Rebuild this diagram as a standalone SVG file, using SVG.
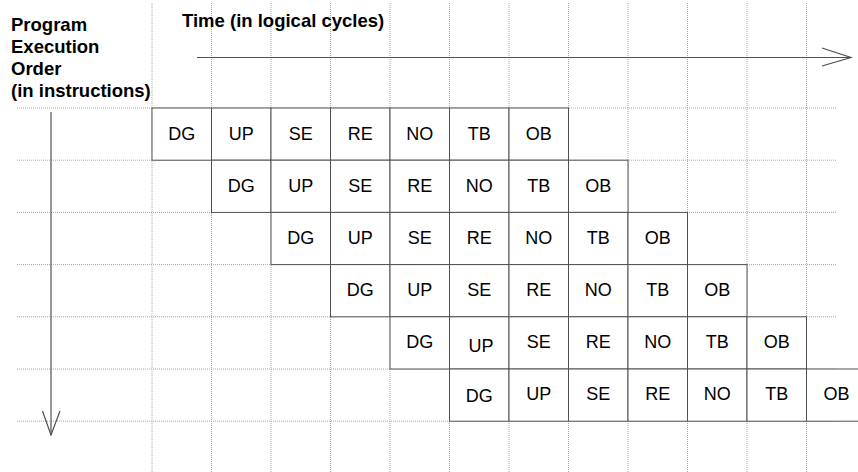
<svg xmlns="http://www.w3.org/2000/svg" width="858" height="472" viewBox="0 0 858 472">
<defs>
<style>
.grid line{stroke:#a8a8a8;stroke-width:1;stroke-dasharray:1 1;}
.cell rect{fill:#fff;stroke:#505050;stroke-width:1;}
.cell text{font-family:"Liberation Sans",Arial,sans-serif;font-size:18px;fill:#000;text-anchor:middle;}
.lbl{font-family:"Liberation Sans",Arial,sans-serif;font-size:18.5px;font-weight:bold;fill:#000;}
.conn{stroke:#505050;stroke-width:1.2;fill:none;}
</style>
</defs>
<rect width="858" height="472" fill="#fff"/>
<g id="grid" class="grid">
<line x1="152" y1="3" x2="152" y2="472"/>
<line x1="211.5" y1="3" x2="211.5" y2="472"/>
<line x1="271" y1="3" x2="271" y2="472"/>
<line x1="330.5" y1="3" x2="330.5" y2="472"/>
<line x1="390" y1="3" x2="390" y2="472"/>
<line x1="449.5" y1="3" x2="449.5" y2="472"/>
<line x1="509" y1="3" x2="509" y2="472"/>
<line x1="568.5" y1="3" x2="568.5" y2="472"/>
<line x1="628" y1="3" x2="628" y2="472"/>
<line x1="687.5" y1="3" x2="687.5" y2="472"/>
<line x1="747" y1="3" x2="747" y2="472"/>
<line x1="806.5" y1="3" x2="806.5" y2="472"/>
<line x1="17" y1="108" x2="836" y2="108"/>
<line x1="17" y1="160.2" x2="836" y2="160.2"/>
<line x1="17" y1="212.4" x2="836" y2="212.4"/>
<line x1="17" y1="264.6" x2="836" y2="264.6"/>
<line x1="17" y1="316.8" x2="836" y2="316.8"/>
<line x1="17" y1="369" x2="836" y2="369"/>
<line x1="17" y1="421.2" x2="836" y2="421.2"/>
</g>
<g id="labels">
<text class="lbl" x="11" y="31">Program</text>
<text class="lbl" x="11" y="53">Execution</text>
<text class="lbl" x="11" y="75">Order</text>
<text class="lbl" x="11" y="97">(in instructions)</text>
<text class="lbl" x="182" y="27">Time (in logical cycles)</text>
</g>
<g id="connectors">
<line class="conn" x1="197" y1="57.5" x2="851" y2="57.5"/>
<polyline class="conn" points="822,48 851,57.5 822,66"/>
<line class="conn" x1="51" y1="112" x2="51" y2="435"/>
<polyline class="conn" points="42.5,411 51,435 60,411"/>
</g>
<g id="r0">
<g id="r0c0" class="cell"><rect x="152" y="108" width="59.5" height="52.2"/><text x="181.75" y="139.6">DG</text></g>
<g id="r0c1" class="cell"><rect x="211.5" y="108" width="59.5" height="52.2"/><text x="241.25" y="139.6">UP</text></g>
<g id="r0c2" class="cell"><rect x="271" y="108" width="59.5" height="52.2"/><text x="300.75" y="139.6">SE</text></g>
<g id="r0c3" class="cell"><rect x="330.5" y="108" width="59.5" height="52.2"/><text x="360.25" y="139.6">RE</text></g>
<g id="r0c4" class="cell"><rect x="390" y="108" width="59.5" height="52.2"/><text x="419.75" y="139.6">NO</text></g>
<g id="r0c5" class="cell"><rect x="449.5" y="108" width="59.5" height="52.2"/><text x="479.25" y="139.6">TB</text></g>
<g id="r0c6" class="cell"><rect x="509" y="108" width="59.5" height="52.2"/><text x="538.75" y="139.6">OB</text></g>
</g>
<g id="r1">
<g id="r1c0" class="cell"><rect x="211.5" y="160.2" width="59.5" height="52.2"/><text x="241.25" y="191.8">DG</text></g>
<g id="r1c1" class="cell"><rect x="271" y="160.2" width="59.5" height="52.2"/><text x="300.75" y="191.8">UP</text></g>
<g id="r1c2" class="cell"><rect x="330.5" y="160.2" width="59.5" height="52.2"/><text x="360.25" y="191.8">SE</text></g>
<g id="r1c3" class="cell"><rect x="390" y="160.2" width="59.5" height="52.2"/><text x="419.75" y="191.8">RE</text></g>
<g id="r1c4" class="cell"><rect x="449.5" y="160.2" width="59.5" height="52.2"/><text x="479.25" y="191.8">NO</text></g>
<g id="r1c5" class="cell"><rect x="509" y="160.2" width="59.5" height="52.2"/><text x="538.75" y="191.8">TB</text></g>
<g id="r1c6" class="cell"><rect x="568.5" y="160.2" width="59.5" height="52.2"/><text x="598.25" y="191.8">OB</text></g>
</g>
<g id="r2">
<g id="r2c0" class="cell"><rect x="271" y="212.4" width="59.5" height="52.2"/><text x="300.75" y="244">DG</text></g>
<g id="r2c1" class="cell"><rect x="330.5" y="212.4" width="59.5" height="52.2"/><text x="360.25" y="244">UP</text></g>
<g id="r2c2" class="cell"><rect x="390" y="212.4" width="59.5" height="52.2"/><text x="419.75" y="244">SE</text></g>
<g id="r2c3" class="cell"><rect x="449.5" y="212.4" width="59.5" height="52.2"/><text x="479.25" y="244">RE</text></g>
<g id="r2c4" class="cell"><rect x="509" y="212.4" width="59.5" height="52.2"/><text x="538.75" y="244">NO</text></g>
<g id="r2c5" class="cell"><rect x="568.5" y="212.4" width="59.5" height="52.2"/><text x="598.25" y="244">TB</text></g>
<g id="r2c6" class="cell"><rect x="628" y="212.4" width="59.5" height="52.2"/><text x="657.75" y="244">OB</text></g>
</g>
<g id="r3">
<g id="r3c0" class="cell"><rect x="330.5" y="264.6" width="59.5" height="52.2"/><text x="360.25" y="296.2">DG</text></g>
<g id="r3c1" class="cell"><rect x="390" y="264.6" width="59.5" height="52.2"/><text x="419.75" y="296.2">UP</text></g>
<g id="r3c2" class="cell"><rect x="449.5" y="264.6" width="59.5" height="52.2"/><text x="479.25" y="296.2">SE</text></g>
<g id="r3c3" class="cell"><rect x="509" y="264.6" width="59.5" height="52.2"/><text x="538.75" y="296.2">RE</text></g>
<g id="r3c4" class="cell"><rect x="568.5" y="264.6" width="59.5" height="52.2"/><text x="598.25" y="296.2">NO</text></g>
<g id="r3c5" class="cell"><rect x="628" y="264.6" width="59.5" height="52.2"/><text x="657.75" y="296.2">TB</text></g>
<g id="r3c6" class="cell"><rect x="687.5" y="264.6" width="59.5" height="52.2"/><text x="717.25" y="296.2">OB</text></g>
</g>
<g id="r4">
<g id="r4c0" class="cell"><rect x="390" y="316.8" width="59.5" height="52.2"/><text x="419.75" y="347.8">DG</text></g>
<g id="r4c1" class="cell"><rect x="449.5" y="316.8" width="59.5" height="52.2"/><text x="481" y="351.8">UP</text></g>
<g id="r4c2" class="cell"><rect x="509" y="316.8" width="59.5" height="52.2"/><text x="538.75" y="347.8">SE</text></g>
<g id="r4c3" class="cell"><rect x="568.5" y="316.8" width="59.5" height="52.2"/><text x="598.25" y="347.8">RE</text></g>
<g id="r4c4" class="cell"><rect x="628" y="316.8" width="59.5" height="52.2"/><text x="657.75" y="347.8">NO</text></g>
<g id="r4c5" class="cell"><rect x="687.5" y="316.8" width="59.5" height="52.2"/><text x="717.25" y="347.8">TB</text></g>
<g id="r4c6" class="cell"><rect x="747" y="316.8" width="59.5" height="52.2"/><text x="776.75" y="347.8">OB</text></g>
</g>
<g id="r5">
<g id="r5c0" class="cell"><rect x="449.5" y="369" width="59.5" height="52.2"/><text x="479.25" y="401.5">DG</text></g>
<g id="r5c1" class="cell"><rect x="509" y="369" width="59.5" height="52.2"/><text x="538.75" y="400">UP</text></g>
<g id="r5c2" class="cell"><rect x="568.5" y="369" width="59.5" height="52.2"/><text x="598.25" y="400">SE</text></g>
<g id="r5c3" class="cell"><rect x="628" y="369" width="59.5" height="52.2"/><text x="657.75" y="400">RE</text></g>
<g id="r5c4" class="cell"><rect x="687.5" y="369" width="59.5" height="52.2"/><text x="717.25" y="400">NO</text></g>
<g id="r5c5" class="cell"><rect x="747" y="369" width="59.5" height="52.2"/><text x="776.75" y="400">TB</text></g>
<g id="r5c6" class="cell"><rect x="806.5" y="369" width="59.5" height="52.2"/><text x="836.5" y="400">OB</text></g>
</g>
</svg>
